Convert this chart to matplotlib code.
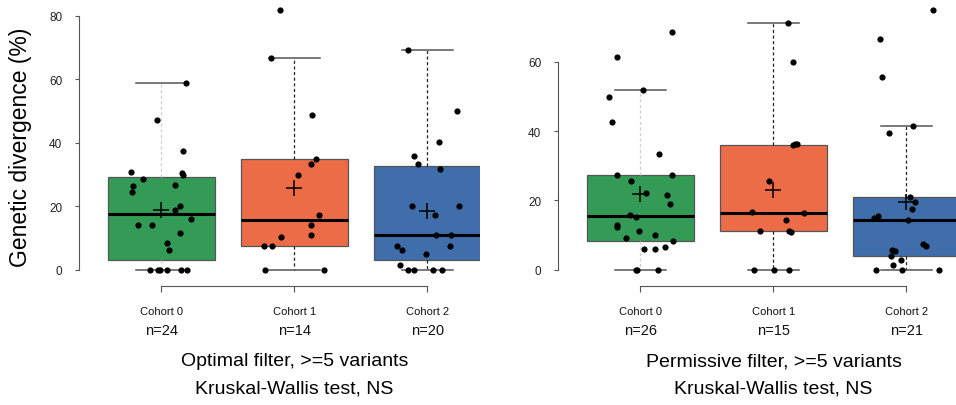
import matplotlib
matplotlib.use("Agg")
import matplotlib.pyplot as plt
from matplotlib.transforms import blended_transform_factory

plt.rcParams['font.family'] = ['Liberation Sans', 'DejaVu Sans']

# ---- data ----
cohorts = ["Cohort 0", "Cohort 1", "Cohort 2"]
box_colors = ["#339b55", "#ec6c47", "#3f6eab"]

# Optimal filter panel
opt_n = [24, 14, 20]
opt_c0_vals = [58.8, 47.0, 37.4, 30.7, 30.5, 29.9, 28.5, 26.2, 26.6, 24.4, 19.9, 18.6,
               16.0, 14.1, 14.1, 11.6, 8.3, 6.2, 0, 0, 0, 0, 0, 0]
opt_c0_jit = [0.183, -0.035, 0.165, -0.228, 0.153, 0.160, -0.138, -0.211, 0.105, -0.221, 0.140, 0.105,
              0.221, -0.175, -0.068, 0.143, 0.045, 0.058, -0.088, -0.025, -0.013, 0.045, 0.150, 0.193]
opt_c1_vals = [81.8, 66.6, 48.6, 34.9, 33.3, 29.7, 17.3, 14.1, 10.4, 11.0, 7.5, 7.5, 0, 0]
opt_c1_jit = [-0.108, -0.180, 0.133, 0.165, 0.123, 0.023, 0.188, 0.128, -0.098, 0.128, -0.228, -0.168,
              -0.223, 0.223]
opt_c2_vals = [69.1, 49.9, 40.3, 35.8, 33.3, 31.6, 19.9, 19.9, 17.3, 11.0, 11.0, 7.5, 6.2, 7.5,
               4.9, 1.3, 0, 0, 0, 0]
opt_c2_jit = [-0.143, 0.221, 0.085, -0.103, -0.068, 0.098, -0.118, 0.238, 0.055, 0.065, 0.180, -0.231,
              -0.188, 0.173, -0.010, -0.203, -0.150, -0.098, 0.045, 0.110]
opt_q1 = [3.0, 7.5, 3.1]
opt_med = [17.4, 15.7, 11.0]
opt_q3 = [29.2, 34.9, 32.5]
opt_whislo = [0, 0, 0]
opt_whishi = [58.8, 66.6, 69.1]
opt_mean = [18.8, 25.8, 18.4]

# Permissive filter panel
perm_n = [26, 15, 21]
perm_c0_vals = [68.8, 61.5, 50.0, 42.8, 33.3, 27.2, 27.2, 25.5, 22.2, 21.5, 19.0, 15.8, 15.3,
                13.0, 12.4, 11.1, 9.9, 9.0, 8.3, 5.9, 6.1, 6.6, 52.0, 0, 0, 0]
perm_c0_jit = [0.236, -0.178, -0.238, -0.216, 0.143, -0.180, 0.238, -0.070, 0.045, 0.203, 0.223,
               -0.075, -0.035, -0.180, -0.175, -0.013, 0.110, -0.108, 0.243, 0.023, 0.110, 0.185,
               0.020, -0.030, 0.135, -0.025]
perm_c1_vals = [71.3, 60.0, 36.1, 36.2, 36.4, 25.7, 16.7, 16.3, 14.2, 11.1, 11.1, 10.9, 0, 0, 0]
perm_c1_jit = [0.110, 0.148, 0.145, 0.165, 0.180, -0.033, -0.158, 0.228, 0.098, -0.100, 0.118, 0.133,
               -0.145, 0.005, 0.120]
perm_c2_vals = [75.1, 66.6, 55.7, 41.6, 39.4, 21.0, 19.5, 17.4, 15.6, 15.0, 14.2, 7.3, 6.9, 5.6,
                5.4, 3.8, 2.9, 1.4, 0, 0, 0]
perm_c2_jit = [0.198, -0.200, -0.183, 0.050, -0.128, 0.030, 0.065, 0.040, -0.216, -0.241, 0.013,
               0.123, 0.145, -0.108, -0.083, -0.115, -0.043, -0.100, -0.228, -0.035, 0.243]
perm_q1 = [8.3, 11.1, 3.8]
perm_med = [15.6, 16.3, 14.2]
perm_q3 = [27.2, 36.1, 21.0]
perm_whislo = [0, 0, 0]
perm_whishi = [52.0, 71.3, 41.6]
perm_mean = [21.8, 23.0, 19.6]

W, H = 956, 406
fig = plt.figure(figsize=(W / 100, H / 100), dpi=100)

axis_grey = "#555555"


def draw_panel(ax, q1, med, q3, wlo, whi, mean, vals, jits, ns, ymax_tick, ylim, xlim,
               title1, title2):
    stats = []
    for i in range(3):
        stats.append(dict(med=med[i], q1=q1[i], q3=q3[i], whislo=wlo[i], whishi=whi[i],
                          mean=mean[i], fliers=[]))
    pos = [1, 2, 3]
    bp = ax.bxp(stats, positions=pos, widths=0.8, capwidths=0.38, patch_artist=True,
                showmeans=True,
                boxprops=dict(edgecolor=axis_grey, linewidth=0.9),
                medianprops=dict(color="black", linewidth=2.2),
                whiskerprops=dict(linestyle=(0, (2.5, 2)), linewidth=0.9, color="#222222"),
                capprops=dict(color=axis_grey, linewidth=1.1),
                meanprops=dict(marker="+", markersize=11, markeredgecolor="black",
                               markeredgewidth=1.1))
    for patch, c in zip(bp["boxes"], box_colors):
        patch.set_facecolor(c)
    # first cohort whisker is drawn faint in the reference
    for w in bp["whiskers"][:2]:
        w.set_color("#cfcfcf")

    for i in range(3):
        xs = [pos[i] + j for j in jits[i]]
        ax.scatter(xs, vals[i], s=20, color="black", zorder=5, linewidths=0)

    ax.set_xlim(*xlim)
    ax.set_ylim(*ylim)
    for s in ["top", "right"]:
        ax.spines[s].set_visible(False)
    ax.spines["left"].set_bounds(0, ymax_tick)
    ax.spines["left"].set_color(axis_grey)
    ax.spines["bottom"].set_bounds(1, 3)
    ax.spines["bottom"].set_position(("outward", 4))
    ax.spines["bottom"].set_color(axis_grey)
    ax.set_yticks(range(0, ymax_tick + 1, 20))
    ax.tick_params(axis="y", length=3, width=0.8, color=axis_grey, pad=9,
                   labelsize=8.5, labelcolor="#222222")
    ax.set_xticks(pos)
    ax.set_xticklabels([])
    ax.tick_params(axis="x", length=4.5, width=0.8, color=axis_grey)

    tr = blended_transform_factory(ax.transData, fig.transFigure)
    for i in range(3):
        ax.text(pos[i], 1 - 312 / H, cohorts[i], transform=tr, ha="center", va="center",
                fontsize=8, color="#111111")
        ax.text(pos[i], 1 - 331 / H, "n=%d" % ns[i], transform=tr, ha="center", va="center",
                fontsize=10.5, color="#111111")
    ax.text(2, 1 - 362 / H, title1, transform=tr, ha="center", va="center", fontsize=14)
    ax.text(2, 1 - 389 / H, title2, transform=tr, ha="center", va="center", fontsize=14)


ax_l = fig.add_axes([79 / W, 1 - 281 / H, (480 - 79) / W, 281 / H])
ax_l.patch.set_alpha(0)
draw_panel(ax_l, opt_q1, opt_med, opt_q3, opt_whislo, opt_whishi, opt_mean,
           [opt_c0_vals, opt_c1_vals, opt_c2_vals], [opt_c0_jit, opt_c1_jit, opt_c2_jit],
           opt_n, 80, (-3.3, 85.2), (0.38, 0.38 + (480 - 79) / 133),
           "Optimal filter, >=5 variants", "Kruskal-Wallis test, NS")

ax_r = fig.add_axes([558 / W, 1 - 281 / H, (956 - 558) / W, 281 / H])
ax_r.patch.set_alpha(0)
draw_panel(ax_r, perm_q1, perm_med, perm_q3, perm_whislo, perm_whishi, perm_mean,
           [perm_c0_vals, perm_c1_vals, perm_c2_vals], [perm_c0_jit, perm_c1_jit, perm_c2_jit],
           perm_n, 60, (-3.0, 78.2), (0.38, 0.38 + (956 - 558) / 133),
           "Permissive filter, >=5 variants", "Kruskal-Wallis test, NS")

fig.text(21 / W, 1 - 147 / H, "Genetic divergence (%)", rotation=90, ha="center", va="center",
         fontsize=16.5)

fig.savefig("out.png", dpi=100)
